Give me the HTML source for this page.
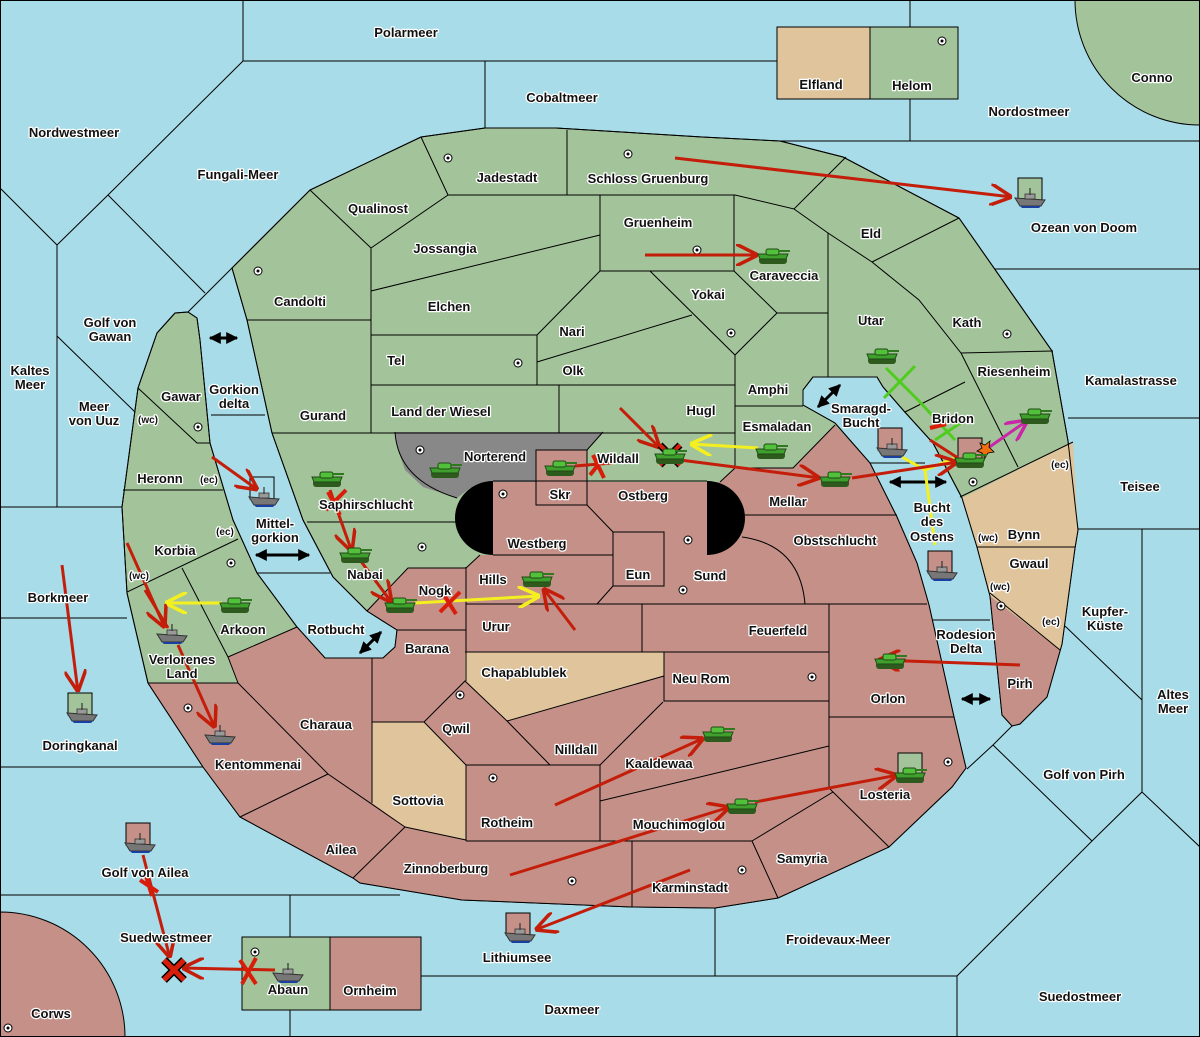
<!DOCTYPE html>
<html><head><meta charset="utf-8"><style>
html,body{margin:0;padding:0;background:#a8dce8;width:1200px;height:1037px;overflow:hidden}
svg{display:block;position:absolute;left:0;top:0;overflow:hidden}
text{font-family:"Liberation Sans",sans-serif;font-weight:bold;font-size:13px;fill:#111;stroke:#fff;stroke-width:2.5px;paint-order:stroke;text-anchor:middle;stroke-linejoin:round}
.s{font-size:10px}
</style></head><body>
<svg width="1200" height="1037" viewBox="0 0 1200 1037" xmlns="http://www.w3.org/2000/svg">
<defs>
<symbol id="tk" viewBox="0 0 36 20"><rect x="3" y="11" width="28" height="7" rx="3" fill="#2f5a1e"/><path d="M2 8 L32 8 L30 13 L4 13Z" fill="#3fa02e" stroke="#1f4a14" stroke-width="1"/><rect x="10" y="3" width="13" height="6" rx="2" fill="#52c03a" stroke="#1f4a14" stroke-width="1"/><rect x="22" y="4" width="12" height="2" fill="#2f7a1e"/></symbol>
<symbol id="fl" viewBox="0 0 32 22"><path d="M1 12 L31 14 L27 20 L6 20Z" fill="#777" stroke="#333" stroke-width="1"/><path d="M6 20 L27 20 L25 22 L8 22Z" fill="#1a3fa0"/><rect x="11" y="8" width="10" height="5" fill="#999" stroke="#333" stroke-width="0.8"/><line x1="16" y1="2" x2="16" y2="9" stroke="#333" stroke-width="1.2"/></symbol>
<marker id="ar" viewBox="0 0 10 10" refX="10" refY="5" markerWidth="22" markerHeight="22" markerUnits="userSpaceOnUse" orient="auto"><path d="M0,0 L10,5 L0,10" fill="none" stroke="#c41e0a" stroke-width="1.6"/></marker>
<marker id="ay" viewBox="0 0 10 10" refX="10" refY="5" markerWidth="22" markerHeight="22" markerUnits="userSpaceOnUse" orient="auto"><path d="M0,0 L10,5 L0,10" fill="none" stroke="#f4f020" stroke-width="1.6"/></marker>
<marker id="am" viewBox="0 0 10 10" refX="10" refY="5" markerWidth="22" markerHeight="22" markerUnits="userSpaceOnUse" orient="auto"><path d="M0,0 L10,5 L0,10" fill="none" stroke="#c828a8" stroke-width="1.6"/></marker>
<marker id="ab" viewBox="0 0 10 10" refX="9" refY="5" markerWidth="12" markerHeight="12" markerUnits="userSpaceOnUse" orient="auto-start-reverse"><path d="M0,0 L10,5 L0,10Z" fill="#000"/></marker>
</defs>
<rect width="1200" height="1037" fill="#a8dce8"/>
<path d="M1075 0A125 125 0 0 0 1200 125L1200 0Z" fill="#a3c49a" stroke="#000"/>
<path d="M0 912A125 125 0 0 1 125 1037L0 1037Z" fill="#c49088" stroke="#000"/>
<g stroke="#000" stroke-width="1" fill="none">
<path d="M243 0V61H777M485 61V128M910 0V27M910 99V141M780 141H1200"/>
<path d="M243 61L108 195L57 245M0 188L57 245M57 245V507M0 507H122M108 195L205 293M188 312L232 268M57 336L135 412"/>
<path d="M0 618H127M0 767H203M0 895H400M290 895V937M290 1010V1037"/>
<path d="M421 976H957M715 908V976M957 976V1037M957 976L1092 841L1142 792L1200 847M1142 529V792M1078 529H1200M1068 418H1200M995 269H1200M1065 626L1142 700M993 745L1092 841M1012 726L993 745L967 769"/>
<path d="M870 463L925 463M933 620H990M211 415H265M255 573H330"/>
</g>
<path d="M232 268L310 190L421 137L485 128L556 128L702 137L780 141L843 157L959 218L1052 351L1068 441L1078 530L1075 548L1062 644L1047 697L1020 724L1012 726L1002 715L990 596L977 547L962 498L933 443L903 410L883 387L877 377L813 377L803 390L803 405L835 423L870 463L897 517L917 563L929 605L954 717L966 768L952 787L889 847L778 898L715 908L632 907L462 900L360 883L353 878L240 817L203 767L148 683L127 593L122 507L138 388L157 333L175 313L188 312L197 318L200 340L210 443L233 520L257 573L297 627L325 658L383 658L395 647L397 630L367 611L333 577L303 520L272 433L247 320Z" fill="#a3c49a" stroke="#000" stroke-width="1"/>
<path d="M148 683L238 683L228 657L297 627L325 658L383 658L395 647L397 630L367 611L408 568L466 568L480 555L493 555L493 481L536 481L536 450L587 450L587 482L720 482L735 468L793 468L835 425L870 463L897 517L917 563L929 605L954 717L966 768L952 787L889 847L778 898L715 908L632 907L462 900L360 883L353 878L240 817L203 767Z" fill="#c49088"/>
<path d="M990 596L1060 650L1047 697L1020 724L1012 726L1002 715Z" fill="#c49088"/>
<path d="M962 498L1073 442L1078 530L1075 548L1062 644L1060 650L990 596L977 547Z" fill="#e0c49c"/>
<path d="M465 652L664 652L664 676L507 721L465 681Z" fill="#e0c49c"/>
<path d="M372 722L424 722L466 765L466 840L405 827L372 803Z" fill="#e0c49c"/>
<path d="M395 432L603 432L587 450L536 450L536 482L490 482L470 488L457 498L423 487L405 470L398 450Z" fill="#888"/>
<path d="M493 481A38 37 0 0 0 493 555Z" fill="#000"/>
<path d="M707 481A38 37 0 0 1 707 555Z" fill="#000"/>
<path d="M232 268L310 190L421 137L485 128L556 128L702 137L780 141L843 157L959 218L1052 351L1068 441L1078 530L1075 548L1062 644L1047 697L1020 724L1012 726L1002 715L990 596L977 547L962 498L933 443L903 410L883 387L877 377L813 377L803 390L803 405L835 423L870 463L897 517L917 563L929 605L954 717L966 768L952 787L889 847L778 898L715 908L632 907L462 900L360 883L353 878L240 817L203 767L148 683L127 593L122 507L138 388L157 333L175 313L188 312L197 318L200 340L210 443L233 520L257 573L297 627L325 658L383 658L395 647L397 630L367 611L333 577L303 520L272 433L247 320Z" fill="none" stroke="#000" stroke-width="1"/>
<g stroke="#000" stroke-width="1" fill="none">
<path d="M421 137L448 195M567 130V195M448 195H735L794 209L846 157M310 190L371 248L448 195M371 248V433M247 320H371M371 291L600 235"/>
<rect x="600" y="195" width="134" height="76"/>
<path d="M371 335H537V385M537 335L600 271M371 385H735M559 385V433M537 362L692 315M650 271L735 355L777 313L734 271M777 313H828M735 355V468M735 406H803"/>
<path d="M794 209L828 233L872 262M828 233V377M872 262L959 218M872 262L919 300L961 353L1053 351M961 353L1018 467M905 412L965 382M960 497L1073 442M977 547H1075M990 593L1060 650"/>
<path d="M272 433H735M603 432L587 450M307 522H457M395 432Q398 480 457 498"/>
<path d="M138 388L197 443H210M123 490H223M127 592L238 539M182 568L228 657L238 683M148 683H238M228 657L297 627M367 611L408 568H466L480 555"/>
<path d="M720 482L735 468H793L835 425M493 481H707M493 555H613M536 450H587V505H536ZM587 505L613 532M597 604L613 586M745 515H897M742 537Q800 545 805 604"/>
<rect x="613" y="532" width="51" height="54"/>
<path d="M238 683L328 774L405 827M328 774L240 817M405 827L353 878M372 658V803M397 630H466M466 567V681M466 604H927M642 604V652M465 652H829M829 604V788M664 652V701H829M664 676L507 721L465 681L424 722L466 765H600M507 721L550 765M372 722H424M466 765V841M405 827L466 840M600 765V841M600 765L663 702M600 801L829 746M466 841H752M632 841V907M752 841L833 792L889 847M752 841L778 898M829 717H954M829 788L833 792"/>
</g>
<rect x="777" y="27" width="93" height="72" fill="#e0c49c" stroke="#000"/>
<rect x="870" y="27" width="88" height="72" fill="#a3c49a" stroke="#000"/>
<rect x="242" y="937" width="88" height="73" fill="#a3c49a" stroke="#000"/>
<rect x="330" y="937" width="91" height="73" fill="#c49088" stroke="#000"/>
<rect x="0.5" y="0.5" width="1199" height="1036" fill="none" stroke="#000"/>
<g fill="#fff" stroke="#000" stroke-width="1">
<circle cx="942" cy="41" r="4"/><circle cx="448" cy="158" r="4"/><circle cx="628" cy="154" r="4"/><circle cx="697" cy="250" r="4"/><circle cx="258" cy="271" r="4"/><circle cx="731" cy="333" r="4"/><circle cx="1007" cy="334" r="4"/><circle cx="518" cy="363" r="4"/><circle cx="198" cy="427" r="4"/><circle cx="420" cy="450" r="4"/><circle cx="503" cy="494" r="4"/><circle cx="973" cy="482" r="4"/><circle cx="422" cy="547" r="4"/><circle cx="688" cy="540" r="4"/><circle cx="1001" cy="606" r="4"/><circle cx="683" cy="590" r="4"/><circle cx="460" cy="695" r="4"/><circle cx="812" cy="677" r="4"/><circle cx="188" cy="708" r="4"/><circle cx="948" cy="762" r="4"/><circle cx="493" cy="778" r="4"/><circle cx="572" cy="881" r="4"/><circle cx="742" cy="870" r="4"/><circle cx="255" cy="952" r="4"/><circle cx="8" cy="1028" r="4"/><circle cx="231" cy="563" r="4"/>
</g>
<g fill="#000"><circle cx="942" cy="41" r="1.5"/><circle cx="448" cy="158" r="1.5"/><circle cx="628" cy="154" r="1.5"/><circle cx="697" cy="250" r="1.5"/><circle cx="258" cy="271" r="1.5"/><circle cx="731" cy="333" r="1.5"/><circle cx="1007" cy="334" r="1.5"/><circle cx="518" cy="363" r="1.5"/><circle cx="198" cy="427" r="1.5"/><circle cx="420" cy="450" r="1.5"/><circle cx="503" cy="494" r="1.5"/><circle cx="973" cy="482" r="1.5"/><circle cx="422" cy="547" r="1.5"/><circle cx="688" cy="540" r="1.5"/><circle cx="1001" cy="606" r="1.5"/><circle cx="683" cy="590" r="1.5"/><circle cx="460" cy="695" r="1.5"/><circle cx="812" cy="677" r="1.5"/><circle cx="188" cy="708" r="1.5"/><circle cx="948" cy="762" r="1.5"/><circle cx="493" cy="778" r="1.5"/><circle cx="572" cy="881" r="1.5"/><circle cx="742" cy="870" r="1.5"/><circle cx="255" cy="952" r="1.5"/><circle cx="8" cy="1028" r="1.5"/><circle cx="231" cy="563" r="1.5"/></g>
<g stroke="#000" stroke-width="3" marker-start="url(#ab)" marker-end="url(#ab)">
<line x1="210" y1="338" x2="237" y2="338"/><line x1="256" y1="555" x2="309" y2="555"/><line x1="360" y1="653" x2="381" y2="632"/><line x1="818" y1="407" x2="840" y2="385"/><line x1="890" y1="482" x2="946" y2="482"/><line x1="962" y1="699" x2="990" y2="699"/>
</g>
<g stroke="#000" stroke-width="1">
<rect x="1018" y="178" width="24" height="22" fill="#a3c49a"/><rect x="250" y="477" width="24" height="22" fill="none"/><rect x="878" y="428" width="24" height="22" fill="#c49088"/><rect x="958" y="438" width="24" height="22" fill="#c49088"/><rect x="928" y="551" width="24" height="22" fill="#c49088"/><rect x="68" y="693" width="24" height="22" fill="#a3c49a"/><rect x="126" y="823" width="24" height="22" fill="#c49088"/><rect x="506" y="913" width="24" height="22" fill="#c49088"/><rect x="898" y="753" width="24" height="22" fill="#a3c49a"/>
</g>
<g stroke="#f4f020" stroke-width="3" fill="none">
<line x1="415" y1="603" x2="540" y2="596" marker-end="url(#ay)"/><line x1="222" y1="603" x2="165" y2="603" marker-end="url(#ay)"/><line x1="758" y1="448" x2="690" y2="444" marker-end="url(#ay)"/>
<path d="M893 452L925 470L935 545M925 470L955 458"/>
</g>
<g stroke="#50cc20" stroke-width="3"><line x1="886" y1="368" x2="918" y2="400"/><line x1="884" y1="398" x2="915" y2="366"/><line x1="918" y1="400" x2="955" y2="440"/><line x1="935" y1="440" x2="965" y2="420"/></g>
<g stroke="#c41e0a" stroke-width="3" fill="none">
<line x1="675" y1="158" x2="1012" y2="197" marker-end="url(#ar)"/>
<line x1="645" y1="255" x2="758" y2="255" marker-end="url(#ar)"/>
<line x1="330" y1="490" x2="352" y2="552" marker-end="url(#ar)"/>
<line x1="360" y1="560" x2="392" y2="603" marker-end="url(#ar)"/>
<line x1="575" y1="630" x2="543" y2="588" marker-end="url(#ar)"/>
<line x1="575" y1="466" x2="612" y2="463"/>
<line x1="620" y1="408" x2="660" y2="448" marker-end="url(#ar)"/>
<line x1="680" y1="460" x2="820" y2="478" marker-end="url(#ar)"/>
<line x1="852" y1="478" x2="958" y2="462" marker-end="url(#ar)"/>
<line x1="930" y1="440" x2="958" y2="458"/>
<line x1="1020" y1="665" x2="878" y2="660" marker-end="url(#ar)"/>
<line x1="555" y1="805" x2="704" y2="738" marker-end="url(#ar)"/>
<line x1="510" y1="875" x2="730" y2="807" marker-end="url(#ar)"/>
<line x1="755" y1="802" x2="898" y2="775" marker-end="url(#ar)"/>
<line x1="690" y1="870" x2="535" y2="930" marker-end="url(#ar)"/>
<line x1="143" y1="855" x2="170" y2="958" marker-end="url(#ar)"/>
<line x1="275" y1="970" x2="182" y2="968" marker-end="url(#ar)"/>
<line x1="62" y1="565" x2="78" y2="692" marker-end="url(#ar)"/>
<line x1="127" y1="543" x2="165" y2="628" marker-end="url(#ar)"/>
<line x1="145" y1="590" x2="168" y2="628"/>
<line x1="178" y1="645" x2="215" y2="728" marker-end="url(#ar)"/>
<line x1="212" y1="457" x2="258" y2="490" marker-end="url(#ar)"/>
</g>
<g stroke="#d81e0a" stroke-width="4">
<path d="M326 510L346 490M440 612L460 592M442 592L456 614M590 475L606 455M593 455L604 478M328 492L340 515M140 880L158 892M146 876L152 896M240 960L256 984M256 958L242 984M930 428L946 424"/>
</g>
<path d="M164 960L184 980M184 960L164 980" stroke="#000" stroke-width="8"/>
<path d="M164 960L184 980M184 960L164 980" stroke="#d81e0a" stroke-width="5"/>
<path d="M660 445L680 465M680 445L660 465" stroke="#000" stroke-width="7"/>
<path d="M660 445L680 465M680 445L660 465" stroke="#d81e0a" stroke-width="4"/>
<line x1="988" y1="448" x2="1028" y2="420" stroke="#c828a8" stroke-width="3" marker-end="url(#am)"/>
<polygon points="985,445 990,441 989,447 994,452 988,453 985,458 982,453 977,451 982,448 980,443" fill="#f07010" stroke="#000" stroke-width="0.8"/>
<use href="#tk" x="756" y="246" width="36" height="20"/><use href="#tk" x="865" y="346" width="36" height="20"/><use href="#tk" x="1018" y="406" width="36" height="20"/><use href="#tk" x="953" y="450" width="36" height="20"/><use href="#tk" x="754" y="441" width="36" height="20"/><use href="#tk" x="653" y="446" width="36" height="20"/><use href="#tk" x="543" y="458" width="36" height="20"/><use href="#tk" x="428" y="460" width="36" height="20"/><use href="#tk" x="310" y="469" width="36" height="20"/><use href="#tk" x="338" y="545" width="36" height="20"/><use href="#tk" x="383" y="595" width="36" height="20"/><use href="#tk" x="520" y="569" width="36" height="20"/><use href="#tk" x="218" y="595" width="36" height="20"/><use href="#tk" x="818" y="469" width="36" height="20"/><use href="#tk" x="873" y="651" width="36" height="20"/><use href="#tk" x="701" y="724" width="36" height="20"/><use href="#tk" x="725" y="796" width="36" height="20"/><use href="#tk" x="893" y="765" width="36" height="20"/>
<use href="#fl" x="1014" y="186" width="32" height="22"/><use href="#fl" x="248" y="485" width="32" height="22"/><use href="#fl" x="876" y="436" width="32" height="22"/><use href="#fl" x="926" y="559" width="32" height="22"/><use href="#fl" x="156" y="622" width="32" height="22"/><use href="#fl" x="66" y="701" width="32" height="22"/><use href="#fl" x="204" y="723" width="32" height="22"/><use href="#fl" x="124" y="831" width="32" height="22"/><use href="#fl" x="504" y="921" width="32" height="22"/><use href="#fl" x="272" y="961" width="32" height="22"/>
<text x="406" y="37">Polarmeer</text><text x="562" y="102">Cobaltmeer</text><text x="821" y="89">Elfland</text><text x="912" y="90">Helom</text><text x="1152" y="82">Conno</text><text x="74" y="137">Nordwestmeer</text><text x="1029" y="116">Nordostmeer</text><text x="238" y="179">Fungali-Meer</text><text x="507" y="182">Jadestadt</text><text x="648" y="183">Schloss Gruenburg</text><text x="1084" y="232">Ozean von Doom</text><text x="378" y="213">Qualinost</text><text x="658" y="227">Gruenheim</text><text x="871" y="238">Eld</text><text x="445" y="253">Jossangia</text><text x="784" y="280">Caraveccia</text><text x="1131" y="385">Kamalastrasse</text><text x="300" y="306">Candolti</text><text x="708" y="299">Yokai</text><text x="449" y="311">Elchen</text><text x="871" y="325">Utar</text><text x="967" y="327">Kath</text><text x="110" y="327">Golf von</text><text x="110" y="341">Gawan</text><text x="572" y="336">Nari</text><text x="396" y="365">Tel</text><text x="1014" y="376">Riesenheim</text><text x="30" y="375">Kaltes</text><text x="30" y="389">Meer</text><text x="573" y="375">Olk</text><text x="181" y="401">Gawar</text><text x="234" y="394">Gorkion</text><text x="234" y="408">delta</text><text x="768" y="394">Amphi</text><text x="94" y="411">Meer</text><text x="94" y="425">von Uuz</text><text x="441" y="416">Land der Wiesel</text><text x="323" y="420">Gurand</text><text x="701" y="415">Hugl</text><text x="861" y="413">Smaragd-</text><text x="861" y="427">Bucht</text><text x="953" y="423">Bridon</text><text class="s" x="148" y="423">(wc)</text><text x="777" y="431">Esmaladan</text><text x="495" y="461">Norterend</text><text x="618" y="463">Wildall</text><text class="s" x="1060" y="468">(ec)</text><text x="160" y="483">Heronn</text><text class="s" x="209" y="483">(ec)</text><text x="1140" y="491">Teisee</text><text x="560" y="499">Skr</text><text x="643" y="500">Ostberg</text><text x="788" y="506">Mellar</text><text x="366" y="509">Saphirschlucht</text><text x="932" y="512">Bucht</text><text x="932" y="526">des</text><text x="932" y="541">Ostens</text><text x="275" y="528">Mittel-</text><text x="275" y="542">gorkion</text><text class="s" x="225" y="535">(ec)</text><text x="1024" y="539">Bynn</text><text class="s" x="988" y="541">(wc)</text><text x="537" y="548">Westberg</text><text x="835" y="545">Obstschlucht</text><text x="175" y="555">Korbia</text><text x="1029" y="568">Gwaul</text><text x="365" y="579">Nabai</text><text x="710" y="580">Sund</text><text x="638" y="579">Eun</text><text class="s" x="139" y="579">(wc)</text><text x="493" y="584">Hills</text><text class="s" x="1000" y="590">(wc)</text><text x="435" y="595">Nogk</text><text x="58" y="602">Borkmeer</text><text x="1105" y="616">Kupfer-</text><text x="1105" y="630">Küste</text><text class="s" x="1051" y="625">(ec)</text><text x="496" y="631">Urur</text><text x="778" y="635">Feuerfeld</text><text x="243" y="634">Arkoon</text><text x="336" y="634">Rotbucht</text><text x="966" y="639">Rodesion</text><text x="966" y="653">Delta</text><text x="427" y="653">Barana</text><text x="182" y="664">Verlorenes</text><text x="182" y="678">Land</text><text x="524" y="677">Chapablublek</text><text x="701" y="683">Neu Rom</text><text x="1020" y="688">Pirh</text><text x="888" y="703">Orlon</text><text x="1173" y="699">Altes</text><text x="1173" y="713">Meer</text><text x="326" y="729">Charaua</text><text x="456" y="733">Qwil</text><text x="80" y="750">Doringkanal</text><text x="576" y="754">Nilldall</text><text x="659" y="768">Kaaldewaa</text><text x="258" y="769">Kentommenai</text><text x="1084" y="779">Golf von Pirh</text><text x="885" y="799">Losteria</text><text x="418" y="805">Sottovia</text><text x="507" y="827">Rotheim</text><text x="679" y="829">Mouchimoglou</text><text x="341" y="854">Ailea</text><text x="802" y="863">Samyria</text><text x="446" y="873">Zinnoberburg</text><text x="145" y="877">Golf von Ailea</text><text x="690" y="892">Karminstadt</text><text x="166" y="942">Suedwestmeer</text><text x="838" y="944">Froidevaux-Meer</text><text x="517" y="962">Lithiumsee</text><text x="288" y="994">Abaun</text><text x="370" y="995">Ornheim</text><text x="1080" y="1001">Suedostmeer</text><text x="572" y="1014">Daxmeer</text><text x="51" y="1018">Corws</text>
</svg>
</body></html>
